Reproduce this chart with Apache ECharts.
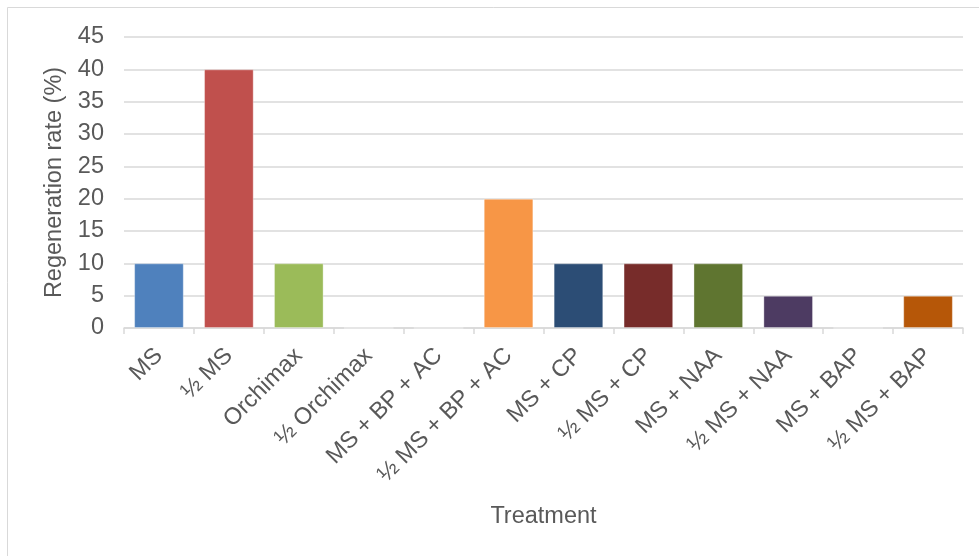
<!DOCTYPE html>
<html>
<head>
<meta charset="utf-8">
<script src="https://cdn.jsdelivr.net/npm/echarts@6/dist/echarts.min.js"></script>
<style>
  html, body { margin: 0; padding: 0; background: #fff; }
  #chart { width: 979px; height: 556px; }
</style>
</head>
<body>
<div id="chart"></div>
<script>
// Treatments and their regeneration rates (%)
const categories = [
  'MS', '½ MS', 'Orchimax', '½ Orchimax', 'MS + BP + AC', '½ MS + BP + AC',
  'MS + CP', '½ MS + CP', 'MS + NAA', '½ MS + NAA', 'MS + BAP', '½ MS + BAP'
];
const rates = [10, 40, 10, 0, 0, 20, 10, 10, 10, 5, 0, 5];
const barColors = [
  '#4F81BD', '#C0504D', '#9BBB59', '#8064A2', '#4BACC6', '#F79646',
  '#2C4D75', '#772C2A', '#5F7530', '#4D3B62', '#276A7C', '#B65708'
];
const yTicks = { min: 0, max: 45, step: 5 };

const textColor = '#595959';
const font = 'Liberation Sans, Arial, sans-serif';
const fs = 23.5;

const chart = echarts.init(document.getElementById('chart'), null, { renderer: 'canvas' });
chart.setOption({
  animation: false,
  backgroundColor: '#fff',
  graphic: [{
    type: 'rect',
    shape: { x: 7.5, y: 7.5, width: 1100, height: 700 },
    style: { fill: 'none', stroke: '#d9d9d9', lineWidth: 1 },
    silent: true
  }],
  grid: { left: 124, right: 16, top: 37, bottom: 228, containLabel: false },
  xAxis: {
    type: 'category',
    data: categories,
    name: 'Treatment',
    nameLocation: 'middle',
    nameGap: 177,
    nameTextStyle: { color: textColor, fontSize: fs, fontFamily: font },
    axisLine: { lineStyle: { color: '#d9d9d9', width: 1.5 } },
    axisTick: { show: true, length: 6, lineStyle: { color: '#d9d9d9', width: 1.5 } },
    axisLabel: {
      rotate: 45, interval: 0, margin: 24,
      color: textColor, fontSize: fs, fontFamily: font
    }
  },
  yAxis: {
    type: 'value',
    min: yTicks.min, max: yTicks.max, interval: yTicks.step,
    name: 'Regeneration rate (%)',
    nameLocation: 'middle',
    nameGap: 50,
    nameTextStyle: { color: textColor, fontSize: fs, fontFamily: font },
    axisLine: { show: false },
    axisTick: { show: false },
    axisLabel: { color: textColor, fontSize: fs, fontFamily: font, margin: 20 },
    splitLine: { lineStyle: { color: '#d9d9d9', width: 1.5 } }
  },
  series: [{
    type: 'bar',
    data: rates.map((v, i) => ({ value: v, itemStyle: { color: barColors[i] } })),
    barCategoryGap: '29%',
    itemStyle: { borderColor: 'rgba(255,255,255,0.35)', borderWidth: 1 }
  }]
});
</script>
</body>
</html>
